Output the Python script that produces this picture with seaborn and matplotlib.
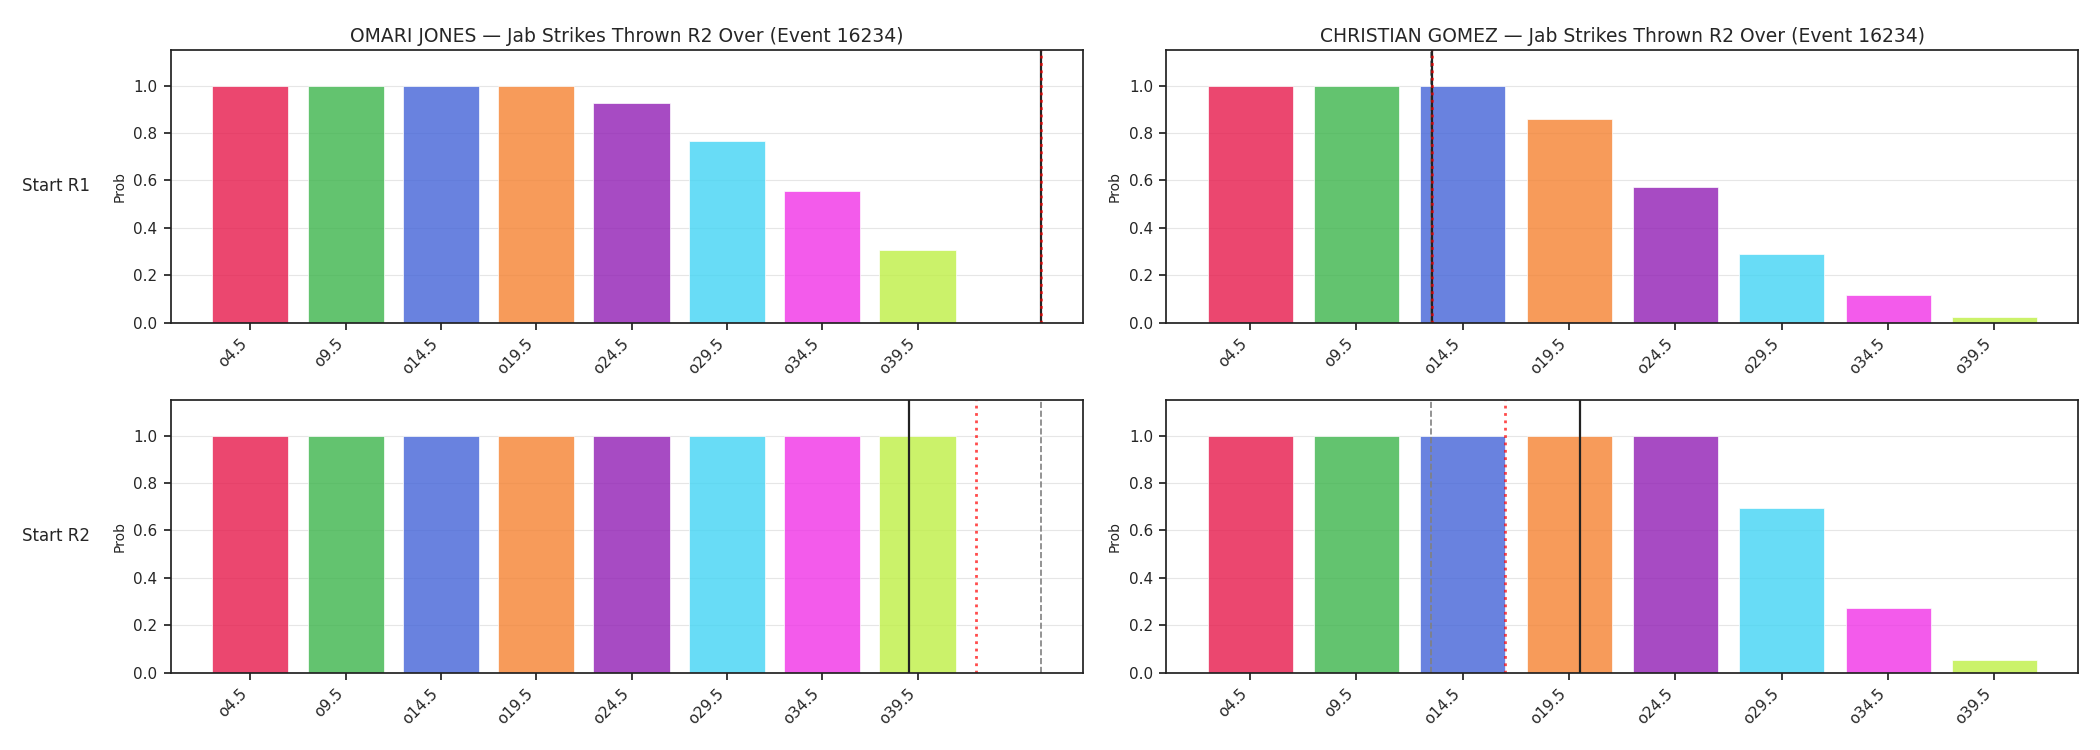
import numpy as np
import pandas as pd
import matplotlib
matplotlib.use("Agg")
import matplotlib.pyplot as plt
import seaborn as sns

# Data
event_id = 16234
fighters = ["OMARI JONES", "CHRISTIAN GOMEZ"]
rounds = ["Start R1", "Start R2"]
line_labels = ["o4.5", "o9.5", "o14.5", "o19.5", "o24.5", "o29.5", "o34.5", "o39.5"]
line_values = [4.5, 9.5, 14.5, 19.5, 24.5, 29.5, 34.5, 39.5]

omari_r1 = [1.0, 1.0, 1.0, 1.0, 0.925, 0.768, 0.556, 0.307]
omari_r2 = [1.0, 1.0, 1.0, 1.0, 1.0, 1.0, 1.0, 1.0]
gomez_r1 = [1.0, 1.0, 1.0, 0.861, 0.573, 0.290, 0.117, 0.024]
gomez_r2 = [1.0, 1.0, 1.0, 1.0, 1.0, 0.694, 0.274, 0.054]

# reference markers (strikes): current, projected, season average
omari_current = [46.0, 39.05]
omari_proj = [46.0, 42.56]
omari_avg = 46.0
gomez_current = [13.05, 20.0]
gomez_proj = [13.05, 16.5]
gomez_avg = 13.0

colors = ["#e6194b", "#3cb44b", "#4363d8", "#f58231",
          "#911eb4", "#42d4f4", "#f032e6", "#bfef45"]

probs = [[omari_r1, gomez_r1], [omari_r2, gomez_r2]]
current = [omari_current, gomez_current]
proj = [omari_proj, gomez_proj]
avg = [omari_avg, gomez_avg]

sns.set_style("ticks")
plt.rcParams['font.family'] = ['DejaVu Sans']


def to_pos(v):
    # position on the category axis, spacing of 5 strikes per line
    return (v - line_values[0]) / (line_values[1] - line_values[0])


fig, axes = plt.subplots(2, 2, figsize=(21, 7.5), dpi=100)
plt.subplots_adjust(left=0.0813, right=0.9897, bottom=0.1031, top=0.9333,
                    wspace=0.0913, hspace=0.2835)

for r in range(2):
    for c in range(2):
        ax = axes[r, c]
        df = pd.DataFrame({"line": line_labels, "prob": probs[r][c]})
        sns.barplot(data=df, x="line", y="prob", hue="line", palette=colors,
                    saturation=1, alpha=0.8, legend=False, ax=ax, width=0.8,
                    edgecolor="white", linewidth=0.6)
        ax.axvline(to_pos(avg[c]), color="gray", linestyle="--", linewidth=1.2)
        ax.axvline(to_pos(current[c][r]), color="#222222", linewidth=1.6)
        ax.axvline(to_pos(proj[c][r]), color="red", alpha=0.7,
                   linestyle=":", linewidth=2)
        ax.autoscale(enable=True, axis="x")
        ax.margins(x=0.05)
        ax.autoscale_view()
        ax.set_ylim(0, 1.15)
        ax.grid(axis="y", color="#e6e6e6", linewidth=0.8)
        ax.set_axisbelow(True)
        for s in ax.spines.values():
            s.set_visible(True)
            s.set_color("#222222")
            s.set_linewidth(1.25)
        ax.set_xlabel("")
        ax.set_ylabel("Prob", fontsize=10, labelpad=5)
        ax.tick_params(axis="both", labelsize=11, length=5, width=1.25,
                       pad=4.5, color="#222222")
        plt.setp(ax.get_xticklabels(), rotation=45, ha="right",
                 rotation_mode="default")
        if r == 0:
            ax.set_title(f"{fighters[c]} — Jab Strikes Thrown R2 Over (Event {event_id})",
                         fontsize=13.5)
        if c == 0:
            ax.text(-0.088, 0.5, rounds[r], transform=ax.transAxes,
                    ha="right", va="center", fontsize=12)

plt.savefig("out.png", dpi=100)
